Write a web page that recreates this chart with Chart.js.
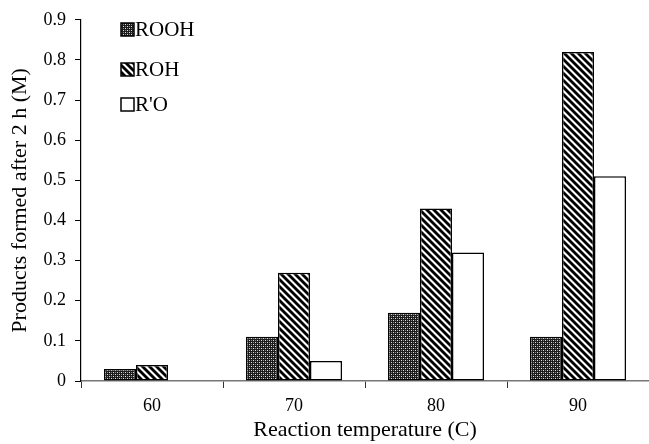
<!DOCTYPE html>
<html lang="en">
<head>
  <meta charset="UTF-8">
  <title>Products vs reaction temperature</title>
  <script src="https://cdn.jsdelivr.net/npm/chart.js"></script>
  <style>
    html, body { margin: 0; padding: 0; background: #fff; }
    #wrap { width: 649px; height: 444px; }
  </style>
</head>
<body>
  <div id="wrap"><canvas id="grafica" width="649" height="444"></canvas></div>

  <script>
    // Datos
    const temperatures = ['60', '70', '80', '90'];
    const seriesNames = ['ROOH', 'ROH', "R'O"];
    const roohValues = [0.03, 0.11, 0.17, 0.11];
    const rohValues = [0.04, 0.27, 0.43, 0.82];
    const roValues = [0, 0.05, 0.32, 0.51];
    const yMin = 0, yMax = 0.9, yStep = 0.1;

    const serif = "'Liberation Serif', 'Times New Roman', serif";

    // Trama punteada oscura
    function dotPattern() {
      const c = document.createElement('canvas');
      c.width = 4; c.height = 4;
      const g = c.getContext('2d');
      g.fillStyle = '#1c1c1c';
      g.fillRect(0, 0, 4, 4);
      g.fillStyle = '#e0e0e0';
      g.fillRect(1, 0, 1, 1);
      g.fillRect(3, 2, 1, 1);
      g.fillStyle = '#888';
      g.fillRect(3, 0, 1, 1);
      g.fillRect(1, 2, 1, 1);
      return g.createPattern(c, 'repeat');
    }

    // Rayas diagonales (\)
    function stripePattern() {
      const s = 7;
      const c = document.createElement('canvas');
      c.width = s; c.height = s;
      const g = c.getContext('2d');
      g.fillStyle = '#fff';
      g.fillRect(0, 0, s, s);
      g.strokeStyle = '#000';
      g.lineWidth = 2.8;
      for (const o of [-s, 0, s]) {
        g.beginPath();
        g.moveTo(o - 1, -1);
        g.lineTo(o + s + 1, s + 1);
        g.stroke();
      }
      return g.createPattern(c, 'repeat');
    }

    const fills = [dotPattern(), stripePattern(), '#ffffff'];
    const seriesData = [roohValues, rohValues, roValues];

    // Leyenda dentro del área del gráfico, en columna
    const legendInside = {
      id: 'legendInside',
      afterDraw(chart) {
        const ctx = chart.ctx;
        const x = 121, box = 13;
        const rows = [23, 63, 98];
        ctx.save();
        ctx.font = '21px ' + serif;
        ctx.textBaseline = 'middle';
        chart.data.datasets.forEach((ds, i) => {
          const y = rows[i];
          ctx.fillStyle = ds.backgroundColor;
          ctx.fillRect(x, y, box, box);
          ctx.lineWidth = 1.5;
          ctx.strokeStyle = '#000';
          ctx.strokeRect(x, y, box, box);
          ctx.fillStyle = '#000';
          ctx.fillText(ds.label, x + box + 1, y + box / 2 + 1);
        });
        ctx.restore();
      }
    };

    const ctx = document.getElementById('grafica').getContext('2d');
    new Chart(ctx, {
      type: 'bar',
      data: {
        labels: temperatures,
        datasets: seriesNames.map((name, i) => ({
          label: name,
          data: seriesData[i],
          backgroundColor: fills[i],
          borderColor: '#000',
          borderWidth: 1.5,
          borderSkipped: false,
          categoryPercentage: 0.676,
          barPercentage: 1
        }))
      },
      options: {
        responsive: false,
        animation: false,
        layout: { padding: { top: 17, right: 0, left: 0, bottom: 0 } },
        scales: {
          x: {
            grid: {
              offset: true,
              drawOnChartArea: false,
              drawTicks: true,
              tickLength: 7,
              color: '#333'
            },
            border: { color: '#777', width: 1.5 },
            ticks: { color: '#000', font: { family: serif, size: 18 }, padding: 7 },
            title: {
              display: true,
              text: 'Reaction temperature (C)',
              color: '#000',
              font: { family: serif, size: 22 },
              padding: { top: 0, bottom: 1 }
            },
            afterFit(scale) { scale.height = 63; }
          },
          y: {
            min: yMin,
            max: yMax,
            ticks: {
              stepSize: yStep,
              color: '#000',
              font: { family: serif, size: 18 },
              padding: 9
            },
            grid: {
              drawOnChartArea: false,
              drawTicks: true,
              tickLength: 6,
              color: '#000'
            },
            border: { color: '#000', width: 1.2 },
            title: {
              display: true,
              text: 'Products formed after 2 h (M)',
              color: '#000',
              font: { family: serif, size: 22 },
              padding: { top: 7, bottom: 0 }
            },
            afterFit(scale) { scale.width = 81; }
          }
        },
        plugins: {
          legend: { display: false },
          tooltip: { enabled: false }
        }
      },
      plugins: [legendInside]
    });
  </script>
</body>
</html>
